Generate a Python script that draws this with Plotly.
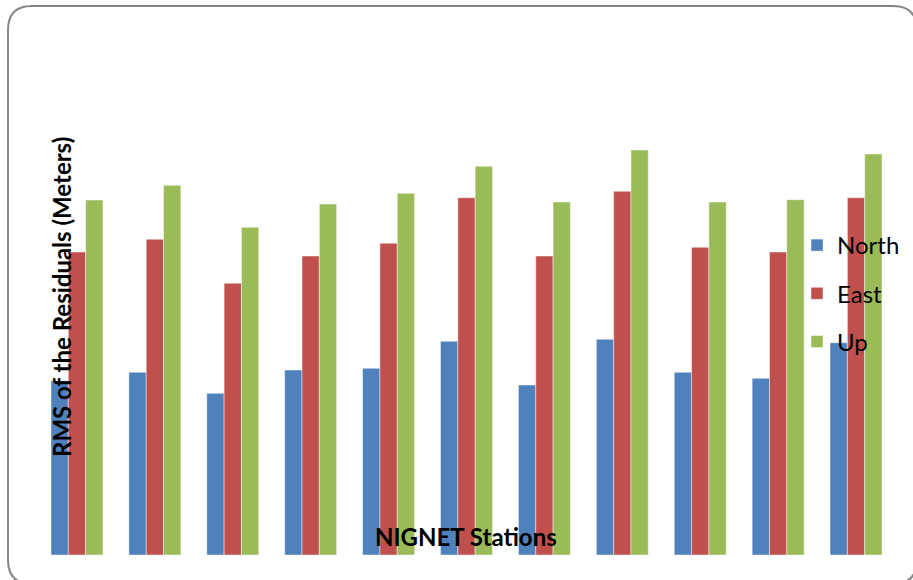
import plotly.graph_objects as go

# RMS of the residuals at each NIGNET station (metres)
stations = ["S1", "S2", "S3", "S4", "S5", "S6", "S7", "S8", "S9", "S10", "S11"]
north = [0.01743, 0.01827, 0.01617, 0.01850, 0.01867, 0.02137, 0.01700, 0.02157, 0.01827, 0.01767, 0.02123]
east = [0.03030, 0.03157, 0.02717, 0.02990, 0.03117, 0.03573, 0.02990, 0.03637, 0.03077, 0.03030, 0.03573]
up = [0.03550, 0.03697, 0.03277, 0.03510, 0.03617, 0.03887, 0.03530, 0.04050, 0.03530, 0.03553, 0.04010]

series = [("North", north, "#4F81BD"), ("East", east, "#C0504D"), ("Up", up, "#9BBB59")]

W, H = 913, 580
ML, MR, MT, MB = 38, 18, 30, 25
PW, PH = W - ML - MR, H - MT - MB
YMAX = 0.0525

fig = go.Figure()
for name, vals, col in series:
    fig.add_trace(go.Bar(
        x=stations, y=vals, name=name, legendgroup=name,
        marker=dict(color=col, line=dict(color="rgba(255,255,255,0.45)", width=1)),
    ))


def px_to_paper(px, py):
    return (px - ML) / PW, (H - MB - py) / PH


# rounded frame around the chart
L, T, R, B, rad = 8, 6, 917, 584, 24
pts = [
    ("M", [(L, T + rad)]),
    ("Q", [(L, T), (L + rad, T)]),
    ("L", [(R - rad, T)]),
    ("Q", [(R, T), (R, T + rad)]),
    ("L", [(R, B - rad)]),
    ("Q", [(R, B), (R - rad, B)]),
    ("L", [(L + rad, B)]),
    ("Q", [(L, B), (L, B - rad)]),
]
path = ""
for cmd, coords in pts:
    path += cmd + " " + " ".join("%.5f,%.5f" % px_to_paper(x, y) for x, y in coords) + " "
path += "Z"
fig.add_shape(type="path", path=path, xref="paper", yref="paper",
              line=dict(color="#858585", width=2), fillcolor="rgba(0,0,0,0)", layer="above")

ax, ay = px_to_paper(61, 297)
fig.add_annotation(text="<b>RMS of the Residuals (Meters)</b>", textangle=-90,
                   xref="paper", yref="paper", x=ax, y=ay, showarrow=False,
                   xanchor="center", yanchor="middle",
                   font=dict(family="Lato", size=24, color="#000000"))
bx, by = px_to_paper(466, 536)
fig.add_annotation(text="<b>NIGNET Stations</b>",
                   xref="paper", yref="paper", x=bx, y=by, showarrow=False,
                   xanchor="center", yanchor="middle",
                   font=dict(family="Lato", size=24, color="#000000"))

fig.update_layout(
    width=W, height=H,
    margin=dict(l=ML, r=MR, t=MT, b=MB, autoexpand=False),
    paper_bgcolor="white", plot_bgcolor="white",
    barmode="group", bargap=0.333, bargroupgap=0,
    xaxis=dict(visible=False, range=[-0.5, len(stations) - 0.5]),
    yaxis=dict(visible=False, range=[0, YMAX]),
    showlegend=True,
    legend=dict(xref="container", yref="container",
                x=797 / W, y=1 - 223 / H, xanchor="left", yanchor="top",
                itemwidth=30,
                bgcolor="rgba(0,0,0,0)", traceorder="grouped", tracegroupgap=14,
                font=dict(family="Lato", size=24, color="#000000")),
    hovermode=False,
)

fig.write_html("out.html")
